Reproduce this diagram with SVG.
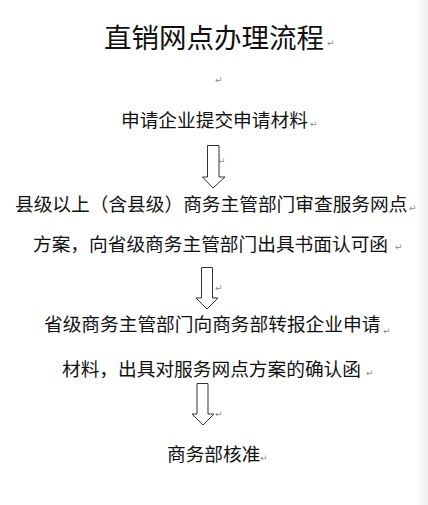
<svg xmlns="http://www.w3.org/2000/svg" width="428" height="505" viewBox="0 0 428 505">
  <defs>
    <linearGradient id="edge" x1="0" y1="0" x2="1" y2="0">
      <stop offset="0" stop-color="#ffffff"/>
      <stop offset="1" stop-color="#ececec"/>
    </linearGradient>
  </defs>
  <style>
    .t { font-family: "Noto Sans CJK SC", "Noto Sans", sans-serif; fill: #111; }
    .title { font-size: 27.5px; font-weight: 400; }
    .body { font-size: 18.7px; font-weight: 400; }
    .rm { font-family: "DejaVu Sans", sans-serif; font-size: 9px; fill: #8a8a8a; }
    .arrow { fill: #ffffff; stroke: #333; stroke-width: 1; stroke-linejoin: miter; }
  </style>
  <rect x="0" y="0" width="428" height="505" fill="#ffffff"/>
  <rect x="416" y="0" width="12" height="505" fill="url(#edge)"/>

  <g id="title">
    <text class="t title" x="104" y="48">直销网点办理流程</text>
    <text class="rm" x="327" y="46">↵</text>
  </g>
  <text class="rm" x="215" y="83">↵</text>

  <g id="node-apply">
    <text class="t body" x="121" y="127">申请企业提交申请材料</text>
    <text class="rm" x="310" y="127">↵</text>
  </g>

  <g id="node-county">
    <text class="t body" x="15" y="211">县级以上（含县级）商务主管部门审查服务网点</text>
    <text class="rm" x="409" y="211">↵</text>
    <text class="t body" x="33" y="251">方案，向省级商务主管部门出具书面认可函</text>
    <text class="rm" x="395" y="250">↵</text>
  </g>

  <g id="node-province">
    <text class="t body" x="44" y="331">省级商务主管部门向商务部转报企业申请</text>
    <text class="rm" x="383" y="334">↵</text>
    <text class="t body" x="62" y="376">材料，出具对服务网点方案的确认函</text>
    <text class="rm" x="366" y="376">↵</text>
  </g>

  <g id="node-mofcom">
    <text class="t body" x="167" y="461">商务部核准</text>
    <text class="rm" x="260" y="461">↵</text>
  </g>

  <g id="connectors">
    <polygon class="arrow" points="207.5,145.5 219,145.5 219,177 225,177 213,188 202.5,177 207.5,177"/>
    <text class="rm" x="218" y="164">↵</text>
    <polygon class="arrow" points="201.5,267.5 212.5,267.5 212.5,298 218,298 207,309 196,298 201.5,298"/>
    <text class="rm" x="215" y="291">↵</text>
    <polygon class="arrow" points="197,383.5 208,383.5 208,414 214,414 203,425 192,414 197,414"/>
    <text class="rm" x="215" y="417">↵</text>
  </g>
</svg>
